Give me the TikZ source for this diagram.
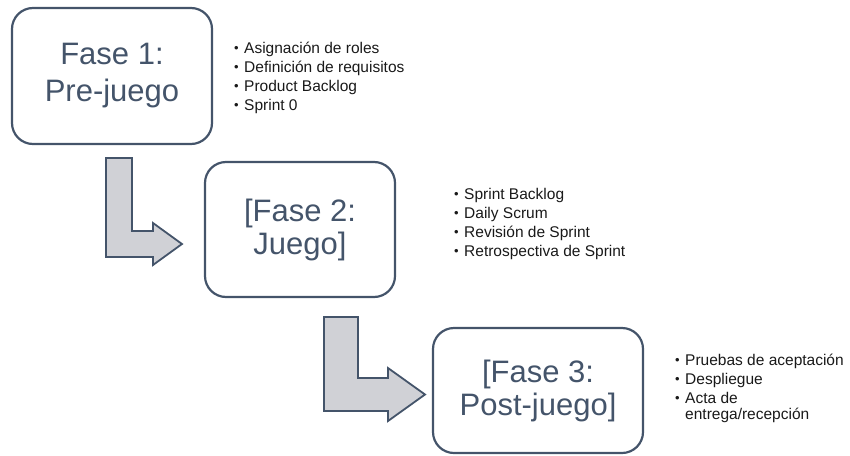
\documentclass[tikz,border=0pt]{standalone}
\usepackage{fontspec}
\setmainfont{Liberation Sans}
\usepackage{tikz}
\usetikzlibrary{positioning}
\definecolor{slate}{RGB}{68,84,106}
\definecolor{bentfill}{RGB}{208,209,214}
\definecolor{ink}{RGB}{25,25,25}
\newcommand{\itm}[1]{\makebox[10pt][l]{\raisebox{0.8pt}{\fontsize{13}{13}\selectfont\textbullet}}#1}
\newcommand{\tasklist}[1]{\begin{tabular}[t]{@{}l@{}}#1\end{tabular}}

\begin{document}
\begin{tikzpicture}[x=1pt, y=-1pt,
  phase/.style={rectangle, rounded corners=21pt, draw=slate, line width=2.2pt,
                text=slate, align=center, inner sep=0pt},
  bent/.style={draw=slate, fill=bentfill, line width=1.8pt, line join=miter},
  tasks/.style={anchor=base west, inner sep=0pt, text=ink,
                font=\fontsize{15.5}{19}\selectfont}]
  \useasboundingbox (0,0) rectangle (850,455);
  \node[phase, minimum width=200pt, minimum height=136pt,
        font=\fontsize{31}{37}\selectfont] (f1) at (112,76) {Fase 1:\\Pre-juego};
  \node[phase, minimum width=190pt, minimum height=135pt,
        font=\fontsize{31}{33}\selectfont] (f2) at (300,229.5) {[Fase 2:\\Juego]};
  \node[phase, minimum width=210pt, minimum height=125pt,
        font=\fontsize{31}{33}\selectfont] (f3) at (538,390.5) {[Fase 3:\\Post-juego]};
  \draw[bent] (106,158) -- (132,158) -- (132,231) -- (153,231) -- (153,223)
    -- (182,244) -- (153,265) -- (153,257) -- (106,257) -- cycle;
  \draw[bent] (324,317) -- (358,317) -- (358,378) -- (388,378) -- (388,368)
    -- (425,394.5) -- (388,421) -- (388,411) -- (324,411) -- cycle;
  \node[tasks] (t1) at (234,53)
    {\tasklist{\itm{Asignación de roles}\\\itm{Definición de requisitos}\\
     \itm{Product Backlog}\\\itm{Sprint 0}}};
  \node[tasks] (t2) at (454,199)
    {\tasklist{\itm{Sprint Backlog}\\\itm{Daily Scrum}\\
     \itm{Revisión de Sprint}\\\itm{Retrospectiva de Sprint}}};
  \node[tasks] (t3) at (675,365)
    {\tasklist{\itm{Pruebas de aceptación}\\\itm{Despliegue}\\
     \itm{Acta de}\\[-3pt]\hspace*{10pt}entrega/recepción}};
\end{tikzpicture}
\end{document}
